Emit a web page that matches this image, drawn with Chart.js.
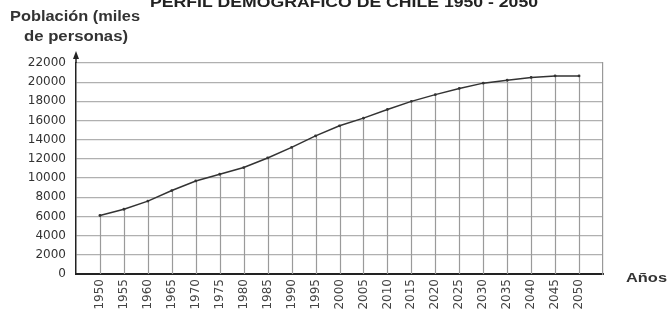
<!DOCTYPE html>
<html>
<head>
<meta charset="utf-8">
<script src="https://cdn.jsdelivr.net/npm/chart.js@4.4.1/dist/chart.umd.min.js"></script>
<style>
  html, body { margin: 0; padding: 0; background: #fff; }
  #wrap { width: 667px; height: 311px; }
</style>
</head>
<body>
<div id="wrap"><canvas id="lineChart" width="667" height="311"></canvas></div>
<script>
// years and population (thousands)
const years = [1950, 1955, 1960, 1965, 1970, 1975, 1980, 1985, 1990, 1995, 2000,
               2005, 2010, 2015, 2020, 2025, 2030, 2035, 2040, 2045, 2050];
const population = [6100, 6750, 7600, 8700, 9700, 10400, 11100, 12100, 13200, 14400, 15450,
                    16250, 17150, 18000, 18700, 19350, 19900, 20200, 20500, 20650, 20650];
const yTicks = [0, 2000, 4000, 6000, 8000, 10000, 12000, 14000, 16000, 18000, 20000, 22000];

const chartTitle = 'PERFIL DEMOGRÁFICO DE CHILE 1950 - 2050';
const yTitle = ['Población (miles', 'de personas)'];
const xTitle = 'Años';

const SANS = '"Liberation Sans", Arial, sans-serif';
const WIDE = '"DejaVu Sans", Verdana, sans-serif';

// the scanned picture is a bit stretched sideways, so squeeze/stretch text to a width
function fillStretched(ctx, text, left, baseline, width) {
    const w = ctx.measureText(text).width;
    ctx.save();
    ctx.translate(left, baseline);
    ctx.scale(width / w, 1);
    ctx.textAlign = 'left';
    ctx.fillText(text, 0, 0);
    ctx.restore();
}

// drop lines from each point down to the x axis, axis arrow and the loose texts
const decorations = {
    id: 'decorations',
    beforeDatasetsDraw(chart) {
        const ctx = chart.ctx;
        const meta = chart.getDatasetMeta(0);
        const bottom = chart.scales.y.getPixelForValue(0);
        ctx.save();
        ctx.strokeStyle = '#9a9a9a';
        ctx.lineWidth = 1.2;
        meta.data.forEach(pt => {
            ctx.beginPath();
            ctx.moveTo(Math.round(pt.x) + 0.5, pt.y);
            ctx.lineTo(Math.round(pt.x) + 0.5, bottom);
            ctx.stroke();
        });
        ctx.restore();
    },
    afterDraw(chart) {
        const ctx = chart.ctx;
        const area = chart.chartArea;
        ctx.save();
        // y axis arrow
        ctx.strokeStyle = '#222';
        ctx.fillStyle = '#222';
        ctx.lineWidth = 1.5;
        ctx.beginPath();
        ctx.moveTo(area.left, area.top);
        ctx.lineTo(area.left, area.top - 8);
        ctx.stroke();
        ctx.beginPath();
        ctx.moveTo(area.left, area.top - 12);
        ctx.lineTo(area.left - 3, area.top - 4);
        ctx.lineTo(area.left + 3, area.top - 4);
        ctx.closePath();
        ctx.fill();

        ctx.fillStyle = '#222';
        ctx.textBaseline = 'alphabetic';
        ctx.font = 'bold 15px ' + SANS;
        fillStretched(ctx, chartTitle, 150, 7, 388);

        ctx.fillStyle = '#333';
        ctx.font = 'bold 14px ' + SANS;
        fillStretched(ctx, yTitle[0], 10, 21, 130);
        fillStretched(ctx, yTitle[1], 24, 41, 104);

        ctx.font = 'bold 13px ' + SANS;
        fillStretched(ctx, xTitle, 626, 282, 41);
        ctx.restore();
    }
};

new Chart(document.getElementById('lineChart'), {
    type: 'line',
    data: {
        datasets: [{
            data: years.map((yr, i) => ({ x: yr, y: population[i] })),
            borderColor: '#333',
            borderWidth: 1.5,
            pointRadius: 1.4,
            pointBackgroundColor: '#333',
            pointBorderWidth: 0,
            tension: 0,
            fill: false
        }]
    },
    options: {
        responsive: false,
        animation: false,
        layout: { padding: { top: 63, right: 64, bottom: 0, left: 0 } },
        plugins: {
            legend: { display: false },
            tooltip: { enabled: false }
        },
        scales: {
            x: {
                type: 'linear',
                min: 1945,
                max: 2055,
                afterFit: s => { s.height = 37; },
                afterBuildTicks: s => { s.ticks = years.map(v => ({ value: v })); },
                grid: { display: false, drawTicks: false },
                border: { display: true, color: '#222', width: 2 },
                ticks: {
                    autoSkip: false,
                    minRotation: 90,
                    maxRotation: 90,
                    padding: 5,
                    color: '#444',
                    font: { size: 12, family: WIDE },
                    callback: v => String(v)
                }
            },
            y: {
                min: 0,
                max: 22000,
                afterFit: s => { s.width = 76; },
                afterBuildTicks: s => { s.ticks = yTicks.map(v => ({ value: v })); },
                grid: { color: '#b0b0b0', lineWidth: 1.3, drawTicks: false },
                border: { display: true, color: '#222', width: 1.5 },
                ticks: {
                    padding: 10,
                    color: '#333',
                    font: { size: 12, family: WIDE },
                    callback: v => String(v)
                }
            },
            y2: {
                position: 'right',
                min: 0,
                max: 22000,
                afterFit: s => { s.width = 0; },
                grid: { display: false },
                border: { display: true, color: '#999', width: 1.2 },
                ticks: { display: false }
            }
        }
    },
    plugins: [decorations]
});
</script>
</body>
</html>
